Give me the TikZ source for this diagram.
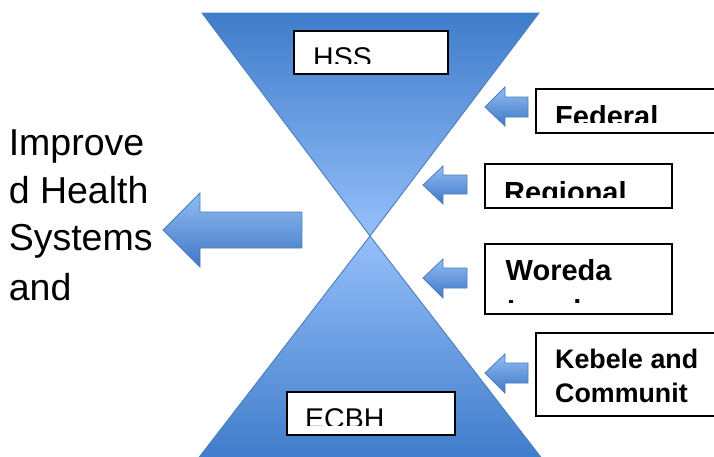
\documentclass[tikz,border=0pt]{standalone}
\usepackage{fontspec}
\setmainfont{Liberation Sans}
\definecolor{triDark}{HTML}{3F7CCA}
\definecolor{triMid}{HTML}{6599DF}
\definecolor{triLight}{HTML}{95BFFA}
\definecolor{edgeBlue}{HTML}{4A7EBB}
\definecolor{arrLight}{HTML}{93BCF4}
\definecolor{arrDark}{HTML}{3F78C6}
\tikzset{
  lvlbox/.style={draw=black, line width=1.5pt, fill=white, inner sep=0pt, anchor=north west},
  arrowsty/.style={top color=arrLight, bottom color=arrDark, draw=edgeBlue, line width=0.8pt, line join=miter},
  tri/.style={draw=edgeBlue, line width=0.9pt},
  lbl/.style={anchor=base west, inner sep=0pt, font=\fontsize{28.5}{34}\selectfont},
  blbl/.style={anchor=base west, inner sep=0pt, font=\fontsize{29}{34}\selectfont\bfseries},
  klbl/.style={anchor=base west, inner sep=0pt, font=\fontsize{26.8}{34}\selectfont\bfseries},
  side/.style={anchor=base west, inner sep=0pt, font=\fontsize{37.5}{48}\selectfont}
}
\newcommand\leftarr[8]{\shade[arrowsty] (#1,#2) -- (#3,#4) -- (#3,#6) -- (#8,#6) -- (#8,#7) -- (#3,#7) -- (#3,#5) -- cycle;}
\begin{document}
\begin{tikzpicture}[x=1pt,y=-1pt]
\useasboundingbox (0,0) rectangle (714,456);
\clip (0,0) rectangle (714,456);
\fill[white] (0,0) rectangle (714,456);
% hourglass
\shade[tri, top color=triDark, middle color=triMid, bottom color=triLight] (202,13) -- (539,13) -- (370,236) -- cycle;
\shade[tri, top color=triLight, middle color=triMid, bottom color=triDark] (370,236) -- (543,460) -- (197,460) -- cycle;
% HSS
\node[lvlbox, minimum width=154pt, minimum height=43pt] (hss) at (293,30) {};
\begin{scope}
\clip (293,30) rectangle (447,63);
\node[lbl] (hsst) at (313,67) {HSS};
\end{scope}
% ECBH
\node[lvlbox, minimum width=168pt, minimum height=43pt] (ecbh) at (286,391) {};
\begin{scope}
\clip (286,391) rectangle (454,425);
\node[lbl] (ecbht) at (305,428) {ECBH};
\end{scope}
% Federal
\node[lvlbox, minimum width=185pt, minimum height=44pt] (fed) at (535,88) {};
\begin{scope}
\clip (535,88) rectangle (720,122);
\node[blbl] (fedt) at (555,126) {Federal};
\end{scope}
% Regional
\node[lvlbox, minimum width=187pt, minimum height=44pt] (reg) at (484,163) {};
\begin{scope}
\clip (484,163) rectangle (671,197);
\node[blbl] (regt) at (504,202) {Regional};
\end{scope}
% Woreda
\node[lvlbox, minimum width=187pt, minimum height=70pt] (wor) at (484,243) {};
\begin{scope}
\clip (484,243) rectangle (671,302);
\node[blbl] (wort1) at (505.5,280) {Woreda};
\node[blbl] (wort2) at (507,320) {Level};
\end{scope}
% Kebele
\node[lvlbox, minimum width=185pt, minimum height=83pt] (keb) at (535,332) {};
\node[klbl] (kebt1) at (555,368) {Kebele and};
\node[klbl] (kebt2) at (555,402) {Communit};
% arrows
\leftarr{163}{230}{200}{193}{267}{212}{248}{302}
\leftarr{485}{107}{505}{87}{126}{97}{117}{528}
\leftarr{423}{185}{443}{166}{204}{175}{194}{467}
\leftarr{423}{278}{443}{259}{298}{268}{288}{467}
\leftarr{485}{373}{505}{354}{393}{363}{383}{528}
% left text
\node[side] (imp1) at (8.6,155) {Improve};
\node[side] (imp2) at (8.6,203) {d Health};
\node[side] (imp3) at (8.6,250) {Systems};
\node[side] (imp4) at (8.6,300) {and};
\end{tikzpicture}
\end{document}
